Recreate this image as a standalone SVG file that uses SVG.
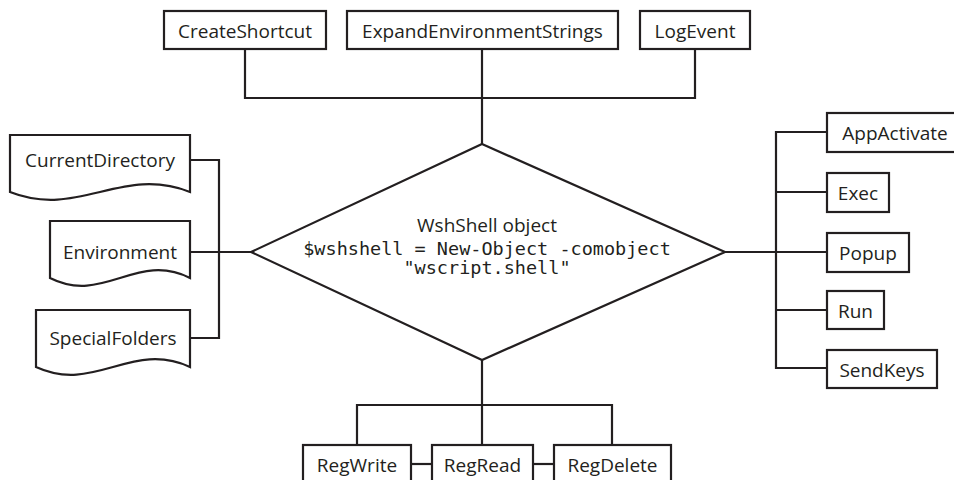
<svg xmlns="http://www.w3.org/2000/svg" width="954" height="480" viewBox="0 0 954 480">
<style>
.box{fill:#fff;stroke:#231f20;stroke-width:2.2}
.doc{fill:#fff;stroke:#231f20;stroke-width:2.2}
.ln{fill:none;stroke:#231f20;stroke-width:2.2}
.t{font-family:"Open Sans","Noto Sans","DejaVu Sans",sans-serif;font-size:19px;fill:#231f20;text-anchor:middle}
.m{font-family:"DejaVu Sans Mono","Liberation Mono",monospace;font-size:18.5px;fill:#231f20;text-anchor:middle}
</style>
<rect width="954" height="480" fill="#fff"/>
<g id="connectors">
<path class="ln" d="M245,49 V98 H695 V49"/>
<path class="ln" d="M482,49 V144"/>
<path class="ln" d="M482,360 V405"/>
<path class="ln" d="M357,445 V405 H612 V445"/>
<path class="ln" d="M482,405 V445"/>
<path class="ln" d="M411,464 H432"/>
<path class="ln" d="M533,464 H554"/>
<path class="ln" d="M190,160 H219 V338 H190"/>
<path class="ln" d="M190,252 H251"/>
<path class="ln" d="M725,252 H827"/>
<path class="ln" d="M827,132 H776 V368 H827"/>
<path class="ln" d="M776,192 H827"/>
<path class="ln" d="M776,310 H827"/>
</g>
<g id="wshshell">
<polygon class="box" points="482,144 725,252 482,360 251,252"/>
<text class="t" x="487" y="232">WshShell object</text>
<text class="m" x="487" y="255">$wshshell = New-Object -comobject</text>
<text class="m" x="487" y="274">"wscript.shell"</text>
</g>
<g id="createshortcut"><rect class="box" x="164" y="11" width="162" height="38"/><text class="t" x="245" y="38">CreateShortcut</text></g>
<g id="expandenvironmentstrings"><rect class="box" x="347" y="11" width="271" height="38"/><text class="t" x="482.5" y="38">ExpandEnvironmentStrings</text></g>
<g id="logevent"><rect class="box" x="640" y="11" width="110" height="38"/><text class="t" x="695" y="38">LogEvent</text></g>
<g id="currentdirectory"><path class="doc" d="M10,135 H190 V192 C121.6,165 78.4,219 10,192 Z"/><text class="t" x="100" y="167">CurrentDirectory</text></g>
<g id="environment"><path class="doc" d="M50,221 H190 V278 C136.8,251 103.2,305 50,278 Z"/><text class="t" x="120" y="259">Environment</text></g>
<g id="specialfolders"><path class="doc" d="M36,310 H190 V367 C131.5,340 94.5,394 36,367 Z"/><text class="t" x="113" y="345">SpecialFolders</text></g>
<g id="appactivate"><rect class="box" x="827" y="113" width="136" height="39"/><text class="t" x="895" y="140">AppActivate</text></g>
<g id="exec"><rect class="box" x="827" y="173" width="62" height="39"/><text class="t" x="858" y="200">Exec</text></g>
<g id="popup"><rect class="box" x="827" y="233" width="82" height="39"/><text class="t" x="868" y="260">Popup</text></g>
<g id="run"><rect class="box" x="827" y="291" width="57" height="38"/><text class="t" x="855.5" y="318">Run</text></g>
<g id="sendkeys"><rect class="box" x="827" y="350" width="110" height="38"/><text class="t" x="882" y="377">SendKeys</text></g>
<g id="regwrite"><rect class="box" x="303" y="445" width="108" height="40"/><text class="t" x="357" y="472">RegWrite</text></g>
<g id="regread"><rect class="box" x="432" y="445" width="101" height="40"/><text class="t" x="482.5" y="472">RegRead</text></g>
<g id="regdelete"><rect class="box" x="554" y="445" width="117" height="40"/><text class="t" x="612.5" y="472">RegDelete</text></g>
</svg>
